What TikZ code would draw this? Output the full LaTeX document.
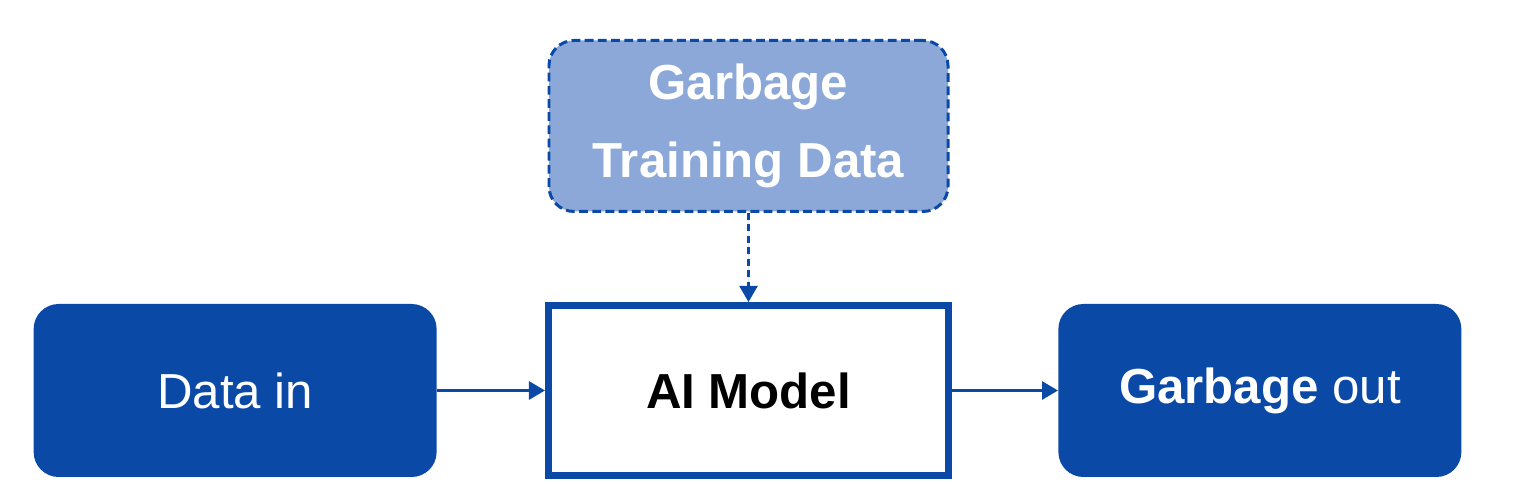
\documentclass[tikz,border=0pt]{standalone}
\usepackage{fontspec}
\setmainfont{Liberation Sans}
\usepackage{xcolor}
\usepackage{tikz}
\usetikzlibrary{arrows.meta,positioning}

\definecolor{aiblue}{RGB}{11,73,167}
\definecolor{ailight}{RGB}{139,168,216}

\begin{document}
\begin{tikzpicture}[
  block/.style={rounded corners=0.5cm, minimum width=8.06cm, minimum height=3.46cm, align=center, font=\fontsize{28}{40}\selectfont},
  iobox/.style={block, fill=aiblue, text=white},
  trainbox/.style={block, fill=ailight, draw=aiblue, dashed, dash pattern=on 5pt off 2.5pt, line width=1.7pt, text=white, minimum width=7.98cm, minimum height=3.42cm, font=\fontsize{28}{44}\selectfont},
  modelbox/.style={draw=aiblue, line width=4pt, minimum width=8.0cm, minimum height=3.4cm, font=\fontsize{28}{34}\selectfont\bfseries},
  arrow/.style={-{Triangle[length=3.2mm,width=3.6mm]}, line width=1.6pt, draw=aiblue, fill=aiblue}
]
\useasboundingbox (0,0) rectangle (30.76,-9.68);

\node[modelbox] (model) at (14.97,-7.81) {AI Model};
\node[iobox, left=2.16cm of model] (datain) {Data in};
\node[iobox, right=2.12cm of model] (gout) {\textbf{Garbage} out};
\node[trainbox, above=1.78cm of model] (train) {\textbf{Garbage}\\\textbf{Training Data}};

\draw[arrow] (datain) -- (model);
\draw[arrow] (model) -- (gout);
\draw[arrow, line width=1.3pt, dash pattern=on 4pt off 2.5pt] (train) -- (model);
\end{tikzpicture}
\end{document}
